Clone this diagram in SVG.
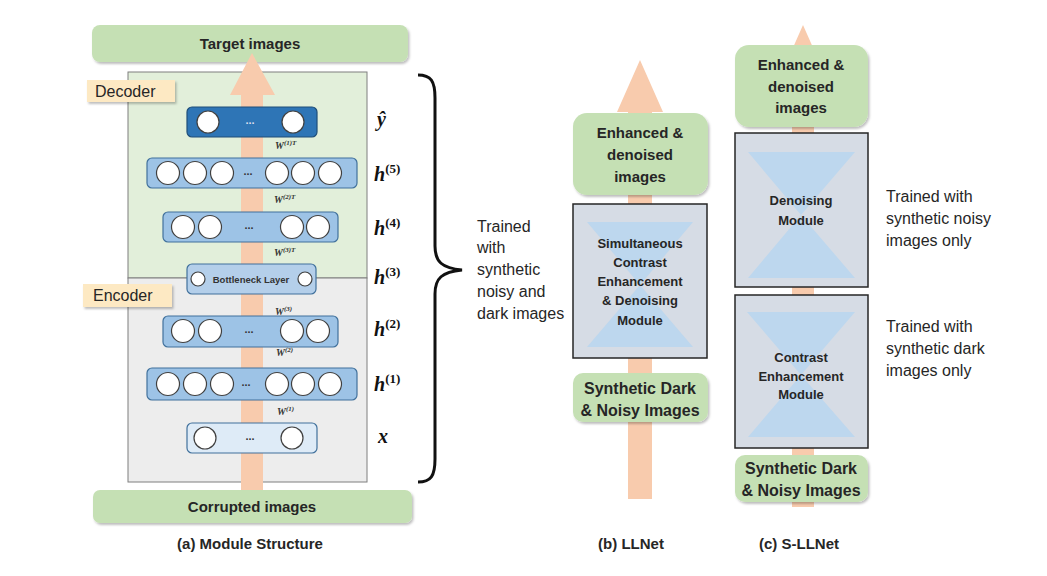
<svg xmlns="http://www.w3.org/2000/svg" width="1047" height="576" viewBox="0 0 1047 576">
<defs>
<filter id="sh" x="-10%" y="-10%" width="130%" height="140%">
<feDropShadow dx="1.5" dy="2" stdDeviation="1.2" flood-color="#000" flood-opacity="0.25"/>
</filter>
<style>
.green{fill:#c5e0b4;filter:url(#sh)}
.bt{font-family:"Liberation Sans",Arial,sans-serif;font-weight:bold;fill:#262626;text-anchor:middle}
.rt{font-family:"Liberation Sans",Arial,sans-serif;fill:#262626;font-size:16px}
.arrow{fill:#f8cbad}
.circ{fill:#fff;stroke:#404040;stroke-width:1.2}
.lyr{fill:#9dc3e6;stroke:#41719c;stroke-width:1.2}
.math{font-family:"Liberation Serif","DejaVu Serif",serif;font-weight:bold;font-style:italic;fill:#111}
.w{font-family:"Liberation Serif","DejaVu Serif",serif;font-weight:bold;font-style:italic;fill:#333;font-size:10px}
.dots{font-family:"Liberation Sans",Arial,sans-serif;font-weight:bold;font-size:11px;fill:#333;text-anchor:middle}
.mod{fill:#d6dce5;stroke:#262626;stroke-width:1.5}
.hg{fill:#bdd7ee}
.lab{fill:#fde9c3;filter:url(#sh)}
</style>
</defs>
<rect width="1047" height="576" fill="#fff"/>

<!-- Panel (a) -->
<g id="target-images">
<rect class="green" x="92" y="25" width="316" height="37" rx="8"/>
<text class="bt" x="250" y="49" font-size="15">Target images</text>
</g>
<g id="decoder-region">
<rect x="128" y="72" width="239" height="206" fill="#e2efda" stroke="#7f7f7f" stroke-width="1"/>
</g>
<g id="encoder-region">
<rect x="128" y="278" width="239" height="204" fill="#ededed" stroke="#7f7f7f" stroke-width="1"/>
</g>
<g id="connectors">
<polygon class="arrow" points="241,490 241,95 230,95 252,53 275,95 263,95 263,490"/>
<polygon class="arrow" points="628,499 628,112 617,112 640,60 663,112 652,112 652,499"/>
<polygon class="arrow" points="792,507 792,77 780,77 803,25 826,77 814,77 814,507"/>
<path d="M418,75 C431,75 435,81 435,98 L435,246 C435,262 442,268 462,270 C442,272 435,278 435,294 L435,459 C435,476 431,482 418,482" fill="none" stroke="#111" stroke-width="3"/>
</g>
<g id="decoder-label">
<rect class="lab" x="87" y="80" width="88" height="22"/>
<text class="rt" x="95" y="97">Decoder</text>
</g>
<g id="encoder-label">
<rect class="lab" x="83" y="284" width="89" height="23"/>
<text class="rt" x="93" y="301">Encoder</text>
</g>

<g id="layer-yhat">
<rect x="187" y="107" width="130" height="30" rx="5" fill="#2e75b6" stroke="#1f4e79" stroke-width="1.2"/>
<circle class="circ" cx="208" cy="122" r="11"/>
<circle class="circ" cx="293" cy="122" r="11"/>
<text class="dots" x="250" y="124" fill="#fff" style="fill:#dde">...</text>
</g>
<g id="layer-h5">
<rect class="lyr" x="147" y="158" width="210" height="30" rx="5"/>
<circle class="circ" cx="168" cy="173" r="11.5"/>
<circle class="circ" cx="195" cy="173" r="11.5"/>
<circle class="circ" cx="222" cy="173" r="11.5"/>
<circle class="circ" cx="277" cy="173" r="11.5"/>
<circle class="circ" cx="303" cy="173" r="11.5"/>
<circle class="circ" cx="330" cy="173" r="11.5"/>
<text class="dots" x="248" y="175">...</text>
</g>
<g id="layer-h4">
<rect class="lyr" x="163" y="212" width="175" height="30" rx="5"/>
<circle class="circ" cx="183" cy="227" r="11.5"/>
<circle class="circ" cx="210" cy="227" r="11.5"/>
<circle class="circ" cx="292" cy="227" r="11.5"/>
<circle class="circ" cx="318" cy="227" r="11.5"/>
<text class="dots" x="249" y="229">...</text>
</g>
<g id="layer-bottleneck">
<rect x="187" y="264" width="129" height="30" rx="5" fill="#b4cfea" stroke="#41719c" stroke-width="1.2"/>
<circle class="circ" cx="198" cy="279" r="7"/>
<circle class="circ" cx="305" cy="279" r="7"/>
<text class="bt" x="251" y="283" font-size="9.5" style="fill:#333">Bottleneck Layer</text>
</g>
<g id="layer-h2">
<rect class="lyr" x="163" y="316" width="175" height="31" rx="5"/>
<circle class="circ" cx="183" cy="331" r="11.5"/>
<circle class="circ" cx="210" cy="331" r="11.5"/>
<circle class="circ" cx="292" cy="331" r="11.5"/>
<circle class="circ" cx="318" cy="331" r="11.5"/>
<text class="dots" x="249" y="333">...</text>
</g>
<g id="layer-h1">
<rect class="lyr" x="147" y="368" width="210" height="32" rx="5"/>
<circle class="circ" cx="168" cy="384" r="11.5"/>
<circle class="circ" cx="195" cy="384" r="11.5"/>
<circle class="circ" cx="222" cy="384" r="11.5"/>
<circle class="circ" cx="277" cy="384" r="11.5"/>
<circle class="circ" cx="303" cy="384" r="11.5"/>
<circle class="circ" cx="330" cy="384" r="11.5"/>
<text class="dots" x="246" y="386">...</text>
</g>
<g id="layer-x">
<rect x="187" y="423" width="130" height="30" rx="5" fill="#deebf7" stroke="#41719c" stroke-width="1.2"/>
<circle class="circ" cx="205" cy="438" r="11"/>
<circle class="circ" cx="292" cy="438" r="11"/>
<text class="dots" x="250" y="440">...</text>
</g>

<g id="weight-labels">
<text class="w" x="275" y="149">W<tspan font-size="7" dy="-4">(1)T</tspan></text>
<text class="w" x="274" y="203">W<tspan font-size="7" dy="-4">(2)T</tspan></text>
<text class="w" x="274" y="256">W<tspan font-size="7" dy="-4">(3)T</tspan></text>
<text class="w" x="275" y="315">W<tspan font-size="7" dy="-4">(3)</tspan></text>
<text class="w" x="276" y="356">W<tspan font-size="7" dy="-4">(2)</tspan></text>
<text class="w" x="277" y="415">W<tspan font-size="7" dy="-4">(1)</tspan></text>
</g>

<g id="layer-names">
<text class="math" x="377" y="126" font-size="20">ŷ</text>
<text class="math" x="374" y="181" font-size="20">h<tspan font-size="13" font-style="normal" dy="-8">(5)</tspan></text>
<text class="math" x="374" y="235" font-size="20">h<tspan font-size="13" font-style="normal" dy="-8">(4)</tspan></text>
<text class="math" x="374" y="284" font-size="20">h<tspan font-size="13" font-style="normal" dy="-8">(3)</tspan></text>
<text class="math" x="374" y="336" font-size="20">h<tspan font-size="13" font-style="normal" dy="-8">(2)</tspan></text>
<text class="math" x="374" y="391" font-size="20">h<tspan font-size="13" font-style="normal" dy="-8">(1)</tspan></text>
<text class="math" x="378" y="443" font-size="20">x</text>
</g>

<g id="corrupted-images">
<rect class="green" x="93" y="490" width="319" height="33" rx="7"/>
<text class="bt" x="252" y="512" font-size="15">Corrupted images</text>
</g>
<text class="bt" x="250" y="549" font-size="15">(a) Module Structure</text>

<!-- Panel (b) -->
<g id="trained-both">
<text class="rt"><tspan x="477" y="232">Trained</tspan><tspan x="477" y="253">with</tspan><tspan x="477" y="275">synthetic</tspan><tspan x="477" y="297">noisy and</tspan><tspan x="477" y="319">dark images</tspan></text>
</g>
<g id="b-output">
<rect class="green" x="573" y="113" width="135" height="82" rx="14"/>
<text class="bt" font-size="15"><tspan x="640" y="138">Enhanced &amp;</tspan><tspan x="640" y="160">denoised</tspan><tspan x="640" y="182">images</tspan></text>
</g>
<g id="b-module">
<rect class="mod" x="573" y="204" width="134" height="154"/>
<polygon class="hg" points="587,222 693,222 640,285 693,347 587,347 640,285"/>
<text class="bt" font-size="13"><tspan x="640" y="248">Simultaneous</tspan><tspan x="640" y="267">Contrast</tspan><tspan x="640" y="286">Enhancement</tspan><tspan x="640" y="305">&amp; Denoising</tspan><tspan x="640" y="325">Module</tspan></text>
</g>
<g id="b-input">
<rect class="green" x="573" y="373" width="135" height="49" rx="10"/>
<text class="bt" font-size="16"><tspan x="640" y="394">Synthetic Dark</tspan><tspan x="640" y="416">&amp; Noisy Images</tspan></text>
</g>
<text class="bt" x="631" y="549" font-size="15">(b) LLNet</text>

<!-- Panel (c) -->
<g id="c-output">
<rect class="green" x="735" y="45" width="133" height="82" rx="14"/>
<text class="bt" font-size="15"><tspan x="801" y="70">Enhanced &amp;</tspan><tspan x="801" y="92">denoised</tspan><tspan x="801" y="113">images</tspan></text>
</g>
<g id="c-denoising">
<rect class="mod" x="735" y="133" width="133" height="154"/>
<polygon class="hg" points="748,152 855,152 801,215 855,278 748,278 801,215"/>
<text class="bt" font-size="13"><tspan x="801" y="205">Denoising</tspan><tspan x="801" y="225">Module</tspan></text>
</g>
<g id="c-contrast">
<rect class="mod" x="735" y="295" width="133" height="153"/>
<polygon class="hg" points="747,312 855,312 801,375 855,437 748,437 801,375"/>
<text class="bt" font-size="13"><tspan x="801" y="362">Contrast</tspan><tspan x="801" y="381">Enhancement</tspan><tspan x="801" y="399">Module</tspan></text>
</g>
<g id="c-input">
<rect class="green" x="735" y="455" width="133" height="47" rx="10"/>
<text class="bt" font-size="16"><tspan x="801" y="474">Synthetic Dark</tspan><tspan x="801" y="496">&amp; Noisy Images</tspan></text>
</g>
<g id="trained-noisy">
<text class="rt"><tspan x="886" y="202">Trained with</tspan><tspan x="886" y="224">synthetic noisy</tspan><tspan x="886" y="246">images only</tspan></text>
</g>
<g id="trained-dark">
<text class="rt"><tspan x="886" y="332">Trained with</tspan><tspan x="886" y="354">synthetic dark</tspan><tspan x="886" y="376">images only</tspan></text>
</g>
<text class="bt" x="799" y="549" font-size="15">(c) S-LLNet</text>
</svg>
